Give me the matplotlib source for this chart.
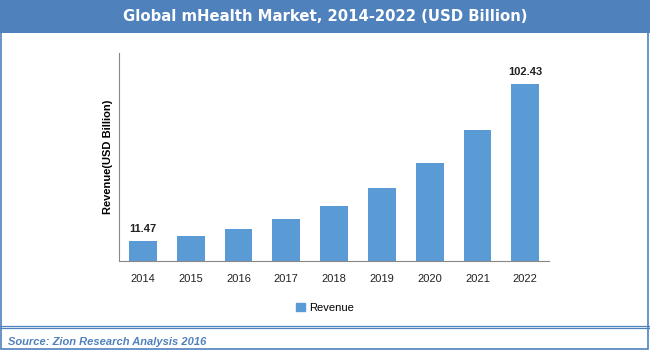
import matplotlib
matplotlib.use("Agg")
import matplotlib.pyplot as plt
from matplotlib.patches import Rectangle, Patch
from matplotlib.lines import Line2D

years = ["2014", "2015", "2016", "2017", "2018", "2019", "2020", "2021", "2022"]
revenue = [11.47, 14.5, 18.5, 24.3, 31.8, 42.3, 56.7, 75.8, 102.43]
labelled = {0: "11.47", 8: "102.43"}

BAR = "#5B9BD5"
HEAD = "#4F81BD"

plt.rcParams["font.family"] = ["Liberation Sans", "DejaVu Sans"]

fig = plt.figure(figsize=(6.5, 3.5), dpi=100)

# ── frame, title bar, footer ─────────────────────────────────────────────────
fig.patches.append(Rectangle((0, 0.906), 1, 0.094, transform=fig.transFigure,
                             facecolor=HEAD, edgecolor="none", zorder=0))
fig.patches.append(Rectangle((0.002, 0.003), 0.995, 0.995, transform=fig.transFigure,
                             facecolor="none", edgecolor=HEAD, lw=1.2, zorder=5))
for yy in (0.069, 0.063):
    fig.add_artist(Line2D([0, 1], [yy, yy], transform=fig.transFigure,
                          color=HEAD, lw=0.9))
fig.text(0.5, 0.952, "Global mHealth Market, 2014-2022 (USD Billion)",
         color="white", fontsize=10.7, fontweight="bold", ha="center", va="center",
         family="DejaVu Sans")
fig.text(0.013, 0.022, "Source: Zion Research Analysis 2016", color=HEAD,
         fontsize=8, style="italic", fontweight="bold", ha="left", va="center")

# ── chart ─────────────────────────────────────────────────────────────────────
ax = fig.add_axes([0.183, 0.254, 0.662, 0.595])
x = range(len(years))
ax.bar(x, revenue, width=0.58, color=BAR, edgecolor="none")
ax.set_xlim(-0.5, len(years) - 0.5)
ax.set_ylim(0, 120.4)
ax.set_xticks(list(x))
ax.set_xticklabels(years, fontsize=8, color="#222222")
ax.tick_params(axis="x", length=0, pad=9)
ax.set_yticks([])
ax.spines[["top", "right"]].set_visible(False)
ax.spines["left"].set_color("#888888")
ax.spines["bottom"].set_color("#888888")
ax.set_ylabel("Revenue(USD Billion)", fontsize=8, fontweight="bold", labelpad=4)

for i, txt in labelled.items():
    ax.text(i, revenue[i] + 4, txt, ha="center", va="bottom",
            fontsize=8, fontweight="bold", color="#222222")

fig.legend(handles=[Patch(color=BAR, label="Revenue")], loc="center",
           bbox_to_anchor=(0.5, 0.12), frameon=False, fontsize=8,
           handlelength=0.8, handleheight=0.8, handletextpad=0.3)

fig.savefig("out.png", dpi=100)
